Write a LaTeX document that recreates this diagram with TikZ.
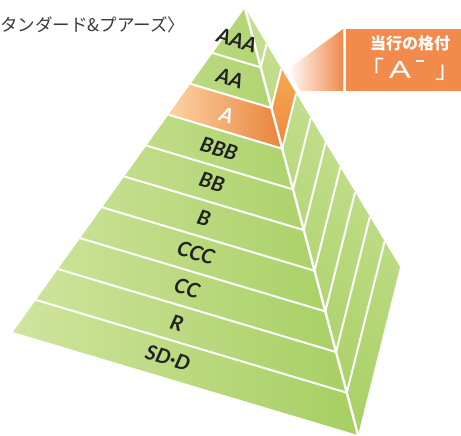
\documentclass[tikz,border=0pt]{standalone}
\usepackage{fontspec}
\setmainfont{Lato}
\newfontfamily\cjk{Noto Sans CJK JP}
\newfontfamily\nsans{Noto Sans}
\usetikzlibrary{calc}
\definecolor{gLight}{HTML}{D0E49E}
\definecolor{gDark}{HTML}{A6CF62}
\definecolor{gRight}{HTML}{CBE298}
\definecolor{oLight}{HTML}{FDD3A5}
\definecolor{oMid}{HTML}{F8AE60}
\definecolor{oDark}{HTML}{E8833B}
\definecolor{oStripTop}{HTML}{F7A852}
\definecolor{oStripBot}{HTML}{EC883A}
\definecolor{callout}{HTML}{F18A4B}
\definecolor{ink}{HTML}{222222}
\definecolor{ink2}{HTML}{3A3A3A}
\begin{document}
\begin{tikzpicture}[x=1pt,y=-1pt,
  bandline/.style={white, line width=2pt, line join=miter},
  ridgeline/.style={white, line width=2.4pt},
  lab/.style={font=\fontsize{20.5}{20.5}\selectfont\bfseries\itshape, text=ink, rotate=-16.6, inner sep=0pt, anchor=center}]
\useasboundingbox (0,0) rectangle (461,436);
\clip (0,0) rectangle (461,436);
\coordinate (A) at (245,8);
\coordinate (L) at (13,332);
\coordinate (R) at (358,435);
\coordinate (Q) at (400,267);
% faces
\shade[left color=gLight, middle color=gLight, right color=gDark] (A) -- (L) -- (R) -- cycle;
\shade[shading=axis, top color=gRight, bottom color=gDark, shading angle=-45] (A) -- (R) -- (Q) -- cycle;
% orange band (A rating)
\shade[left color=oLight, middle color=oMid, right color=oDark]
  ($(A)!0.235!(L)$) -- ($(A)!0.235!(R)$) -- ($(A)!0.331!(R)$) -- ($(A)!0.331!(L)$) -- cycle;
\shade[top color=oStripTop, bottom color=oStripBot]
  ($(A)!0.235!(R)$) -- ($(A)!0.235!(Q)$) -- ($(A)!0.331!(Q)$) -- ($(A)!0.331!(R)$) -- cycle;
% band lines
\foreach \k in {1,...,9}{
  \pgfmathsetmacro\tt{0.139+(\k-1)*0.09525}
  \draw[bandline] ($(A)!\tt!(L)$) -- ($(A)!\tt!(R)$) -- ($(A)!\tt!(Q)$);
}
\draw[ridgeline] (A) -- (R);
% labels
\node[lab] (l1) at (237,40) {AAA};
\node[lab] (l2) at (230,78) {AA};
\node[lab, text=white] (l3) at (226.5,115) {A};
\node[lab] (l4) at (219,149) {BBB};
\node[lab] (l5) at (212,182) {BB};
\node[lab] (l6) at (204,218) {B};
\node[lab] (l7) at (196,253) {CCC};
\node[lab] (l8) at (187,288) {CC};
\node[lab] (l9) at (177,323) {R};
\node[lab] (l10) at (168,358) {SD·D};
% callout
\coordinate (c1) at (287,70);
\coordinate (c2) at (343,29);
\coordinate (c3) at (343,91);
\coordinate (c4) at (300,91);
\shade[left color=white, right color=callout] (c1) -- (c2) -- (c3) -- (c4) -- cycle;
\fill[callout] (346,29) rectangle (461,91);
\node[inner sep=0pt, text=white, font=\cjk\bfseries\fontsize{16}{16}\selectfont] (ct1) at (410,43.5) {当行の格付};
\node[inner sep=0pt, text=white, anchor=base] (ct2) at (410,78)
  {{\cjk\fontsize{24}{24}\selectfont 「}\kern4pt\scalebox{1.45}[1]{\nsans\fontsize{24}{24}\selectfont A}\kern5pt\rule[16.5pt]{8pt}{1.6pt}\kern11pt{\cjk\fontsize{24}{24}\selectfont 」}};
% title
\node[anchor=west, inner sep=0pt, text=ink2, font=\cjk\fontsize{17.5}{17.5}\selectfont] (title) at (0,25) {タンダード\&プアーズ〉};
\end{tikzpicture}
\end{document}
